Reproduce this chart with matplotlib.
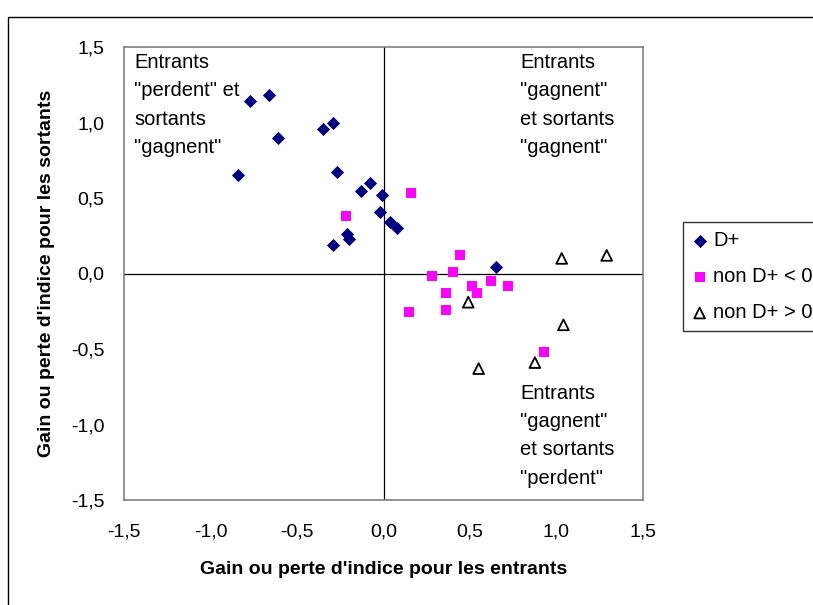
import matplotlib.pyplot as plt
from matplotlib.patches import Rectangle
from matplotlib.ticker import FuncFormatter

plt.rcParams['font.family'] = ['Liberation Sans', 'DejaVu Sans']

# D+
dplus_x = [-0.77, -0.66, -0.61, -0.84, -0.35, -0.29, -0.27, -0.13, -0.08, -0.01,
           -0.02, 0.04, 0.08, -0.21, -0.20, -0.29, 0.65]
dplus_y = [1.14, 1.18, 0.90, 0.65, 0.96, 1.00, 0.67, 0.545, 0.60, 0.52,
           0.41, 0.34, 0.30, 0.26, 0.23, 0.19, 0.046]

# non D+ < 0
neg_x = [-0.215, 0.16, 0.44, 0.28, 0.40, 0.51, 0.54, 0.62, 0.72, 0.36, 0.36, 0.15, 0.93]
neg_y = [0.38, 0.53, 0.124, -0.015, 0.01, -0.084, -0.13, -0.048, -0.084, -0.13, -0.245, -0.258, -0.52]

# non D+ > 0
pos_x = [1.03, 1.29, 0.49, 1.04, 0.875, 0.55]
pos_y = [0.10, 0.12, -0.19, -0.34, -0.59, -0.63]

ticks = [-1.5, -1.0, -0.5, 0.0, 0.5, 1.0, 1.5]

fig = plt.figure(figsize=(8.13, 6.05), dpi=100)
ax = fig.add_axes([124 / 813, 1 - 500 / 605, (643 - 124) / 813, (500 - 47) / 605])

ax.axhline(0, color='black', lw=0.9, zorder=1)
ax.axvline(0, color='black', lw=0.9, zorder=1)

ax.scatter(dplus_x, dplus_y, marker='D', s=45, color='#000080', lw=0, zorder=3, label='D+')
ax.scatter(neg_x, neg_y, marker='s', s=55, color='#ff00ff', lw=0, zorder=3, label='non D+ < 0')
ax.scatter(pos_x, pos_y, marker='^', s=60, facecolor='none', edgecolor='black', lw=1.3,
           zorder=3, label='non D+ > 0')

ax.set_xlim(-1.5, 1.5)
ax.set_ylim(-1.5, 1.5)
ax.set_xticks(ticks)
ax.set_yticks(ticks)
fmt = FuncFormatter(lambda v, p: f'{v:.1f}'.replace('.', ','))
ax.xaxis.set_major_formatter(fmt)
ax.yaxis.set_major_formatter(fmt)
ax.tick_params(length=0, labelsize=14)
ax.tick_params(axis='x', pad=17)
ax.tick_params(axis='y', pad=14)
for s in ax.spines.values():
    s.set_color('#808080')
    s.set_linewidth(1.2)

ax.set_xlabel("Gain ou perte d'indice pour les entrants", fontsize=14, fontweight='bold')
ax.set_ylabel("Gain ou perte d'indice pour les sortants", fontsize=14, fontweight='bold')
ax.xaxis.set_label_coords(0.5, -0.135)
ax.yaxis.set_label_coords(-0.133, 0.5)

txt = dict(fontsize=14.5, va='top', ha='left', linespacing=1.62)
ax.text(-1.44, 1.46, 'Entrants\n"perdent" et\nsortants\n"gagnent"', **txt)
ax.text(0.79, 1.46, 'Entrants\n"gagnent"\net sortants\n"gagnent"', **txt)
ax.text(0.79, -0.73, 'Entrants\n"gagnent"\net sortants\n"perdent"', **txt)

leg = fig.legend(loc='upper left', bbox_to_anchor=(683 / 813, 1 - 222 / 605),
                 fontsize=14.5, frameon=True, fancybox=False, handletextpad=0.3,
                 handlelength=0.75, borderpad=0.45, labelspacing=0.85, borderaxespad=0)
leg.get_frame().set_edgecolor('black')
leg.get_frame().set_linewidth(1.0)

fig.patches.append(Rectangle((8 / 813, -0.1), 1.2, 1.1 - 17 / 605, transform=fig.transFigure,
                             fill=False, edgecolor='black', lw=1.0))

fig.savefig('out.png', dpi=100)
